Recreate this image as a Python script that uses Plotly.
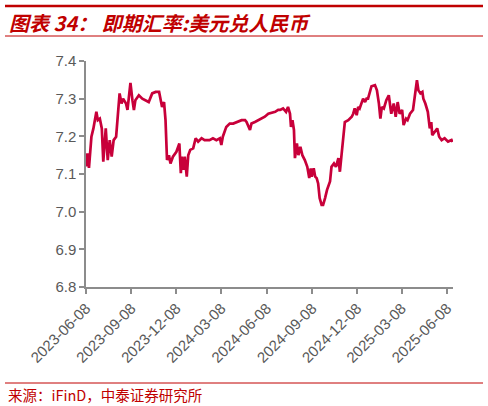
import plotly.graph_objects as go

dates = [
    "2023-06-08", "2023-06-11", "2023-06-14", "2023-06-19", "2023-06-23", "2023-06-29",
    "2023-07-02", "2023-07-06", "2023-07-10", "2023-07-13", "2023-07-18", "2023-07-22",
    "2023-07-26", "2023-07-30", "2023-08-03", "2023-08-08", "2023-08-15", "2023-08-19",
    "2023-08-22", "2023-08-24", "2023-08-28", "2023-08-31", "2023-09-03", "2023-09-06",
    "2023-09-10", "2023-09-13", "2023-09-16", "2023-09-23", "2023-09-30", "2023-10-07",
    "2023-10-13", "2023-10-20", "2023-10-27", "2023-11-03", "2023-11-06", "2023-11-09",
    "2023-11-13", "2023-11-16", "2023-11-19", "2023-11-23", "2023-11-26", "2023-12-01",
    "2023-12-08", "2023-12-14", "2023-12-17", "2023-12-19", "2023-12-22", "2023-12-25",
    "2023-12-29", "2024-01-01", "2024-01-05", "2024-01-11", "2024-01-16", "2024-01-21",
    "2024-01-28", "2024-02-03", "2024-02-13", "2024-02-20", "2024-02-27", "2024-03-05",
    "2024-03-08", "2024-03-11", "2024-03-18", "2024-03-25", "2024-04-01", "2024-04-08",
    "2024-04-18", "2024-04-25", "2024-04-28", "2024-05-05", "2024-05-08", "2024-05-15",
    "2024-05-22", "2024-05-29", "2024-06-04", "2024-06-11", "2024-06-18", "2024-06-25",
    "2024-07-01", "2024-07-05", "2024-07-11", "2024-07-17", "2024-07-21", "2024-07-25",
    "2024-07-27", "2024-07-30", "2024-08-02", "2024-08-04", "2024-08-08", "2024-08-11",
    "2024-08-15", "2024-08-19", "2024-08-24", "2024-08-29", "2024-09-02", "2024-09-05",
    "2024-09-07", "2024-09-11", "2024-09-14", "2024-09-17", "2024-09-20", "2024-09-23",
    "2024-09-27", "2024-09-30", "2024-10-04", "2024-10-08", "2024-10-14", "2024-10-17",
    "2024-10-22", "2024-10-26", "2024-10-31", "2024-11-03", "2024-11-06", "2024-11-10",
    "2024-11-13", "2024-11-20", "2024-11-27", "2024-11-30", "2024-12-03", "2024-12-07",
    "2024-12-10", "2024-12-13", "2024-12-17", "2024-12-20", "2024-12-24", "2024-12-27",
    "2024-12-30", "2025-01-02", "2025-01-06", "2025-01-13", "2025-01-17", "2025-01-21",
    "2025-01-24", "2025-01-27", "2025-01-31", "2025-02-05", "2025-02-10", "2025-02-15",
    "2025-02-20", "2025-02-24", "2025-02-28", "2025-03-04", "2025-03-09", "2025-03-12",
    "2025-03-17", "2025-03-20", "2025-03-25", "2025-03-31", "2025-04-04", "2025-04-08",
    "2025-04-11", "2025-04-15", "2025-04-19", "2025-04-21", "2025-04-25", "2025-04-30",
    "2025-05-04", "2025-05-07", "2025-05-09", "2025-05-14", "2025-05-19", "2025-05-23",
    "2025-05-28", "2025-06-03", "2025-06-10", "2025-06-17", "2025-06-19",
]

usdcny = [
    7.120, 7.155, 7.116, 7.199, 7.221, 7.265,
    7.243, 7.247, 7.221, 7.133, 7.221, 7.137,
    7.190, 7.146, 7.190, 7.199, 7.314, 7.287,
    7.300, 7.296, 7.287, 7.270, 7.314, 7.342,
    7.296, 7.270, 7.296, 7.309, 7.300, 7.296,
    7.291, 7.314, 7.318, 7.318, 7.296, 7.278,
    7.291, 7.243, 7.137, 7.150, 7.128, 7.146,
    7.159, 7.181, 7.102, 7.146, 7.111, 7.146,
    7.093, 7.150, 7.164, 7.168, 7.195, 7.186,
    7.195, 7.190, 7.190, 7.195, 7.190, 7.195,
    7.177, 7.199, 7.225, 7.234, 7.234, 7.238,
    7.243, 7.243, 7.238, 7.217, 7.234, 7.238,
    7.243, 7.247, 7.252, 7.260, 7.262, 7.265,
    7.270, 7.270, 7.274, 7.265, 7.278, 7.260,
    7.225, 7.243, 7.217, 7.142, 7.181, 7.150,
    7.172, 7.150, 7.137, 7.119, 7.089, 7.115,
    7.093, 7.115, 7.093, 7.089, 7.075, 7.036,
    7.018, 7.018, 7.036, 7.058, 7.080, 7.119,
    7.128, 7.119, 7.142, 7.106, 7.146, 7.199,
    7.238, 7.243, 7.252, 7.260, 7.274, 7.256,
    7.278, 7.274, 7.287, 7.300, 7.291, 7.300,
    7.300, 7.314, 7.333, 7.336, 7.322, 7.287,
    7.247, 7.278, 7.274, 7.296, 7.309, 7.260,
    7.287, 7.252, 7.291, 7.260, 7.270, 7.230,
    7.247, 7.243, 7.260, 7.270, 7.305, 7.349,
    7.322, 7.314, 7.318, 7.300, 7.287, 7.265,
    7.221, 7.238, 7.203, 7.212, 7.221, 7.199,
    7.190, 7.195, 7.186, 7.190, 7.185,
]

tick_dates = ["2023-06-08", "2023-09-08", "2023-12-08", "2024-03-08", "2024-06-08",
              "2024-09-08", "2024-12-08", "2025-03-08", "2025-06-08"]
y_ticks = [6.8, 6.9, 7.0, 7.1, 7.2, 7.3, 7.4]

title_text = "图表 34：&nbsp;即期汇率:美元兑人民币"
source_text = "来源：iFinD，中泰证券研究所"

W, H = 488, 406
L, R, T, B = 86, 35, 61, 119
pw, ph = W - L - R, H - T - B

def px(x):
    return (x - L) / pw

def py(y):
    return (H - B - y) / ph

RED = "#C00000"
LINE = "#C8003A"
AXIS = "#8C8C8C"
LBL = "#595959"

fig = go.Figure()
fig.add_trace(go.Scatter(x=dates, y=usdcny, mode="lines",
                         line=dict(color=LINE, width=2.7), hoverinfo="skip"))

fig.update_layout(
    width=W, height=H,
    margin=dict(l=L, r=R, t=T, b=B, pad=0),
    paper_bgcolor="white", plot_bgcolor="white",
    showlegend=False,
    font=dict(family="Liberation Sans, Arial, sans-serif", size=15, color=LBL),
    xaxis=dict(
        type="date", range=["2023-06-08", "2025-06-20"],
        tickmode="array", tickvals=tick_dates, ticktext=tick_dates,
        tickangle=-45, ticks="outside", ticklen=5, tickwidth=1.5, tickcolor=AXIS,
        showline=True, linecolor=AXIS, linewidth=1.5, showgrid=False, zeroline=False,
        tickfont=dict(size=15, color=LBL),
    ),
    yaxis=dict(
        range=[6.8, 7.4], tickmode="array", tickvals=y_ticks,
        ticktext=[f"{v:.1f}" for v in y_ticks],
        ticks="outside", ticklen=5, tickwidth=1.5, tickcolor=AXIS,
        showline=True, linecolor=AXIS, linewidth=1.5, showgrid=False, zeroline=False,
        tickfont=dict(size=15, color=LBL),
    ),
    shapes=[
        dict(type="line", xref="paper", yref="paper", x0=px(5), x1=px(483), y0=py(6), y1=py(6),
             line=dict(color=RED, width=2.5)),
        dict(type="line", xref="paper", yref="paper", x0=px(5), x1=px(483), y0=py(36), y1=py(36),
             line=dict(color=RED, width=1)),
        dict(type="line", xref="paper", yref="paper", x0=px(5), x1=px(483), y0=py(383), y1=py(383),
             line=dict(color=RED, width=1)),
    ],
    annotations=[
        dict(text=title_text, xref="paper", yref="paper", x=px(7), y=py(22),
             xanchor="left", yanchor="middle", showarrow=False,
             font=dict(family="Noto Sans CJK SC", size=20, color=RED, style="italic", weight="bold")),
        dict(text=source_text, xref="paper", yref="paper", x=px(6), y=py(394),
             xanchor="left", yanchor="middle", showarrow=False,
             font=dict(family="Noto Sans CJK SC", size=14.5, color=RED)),
    ],
)

fig.write_html("out.html", config={"displayModeBar": False},
               post_script="document.body.style.margin='0';document.body.style.overflow='hidden';")
